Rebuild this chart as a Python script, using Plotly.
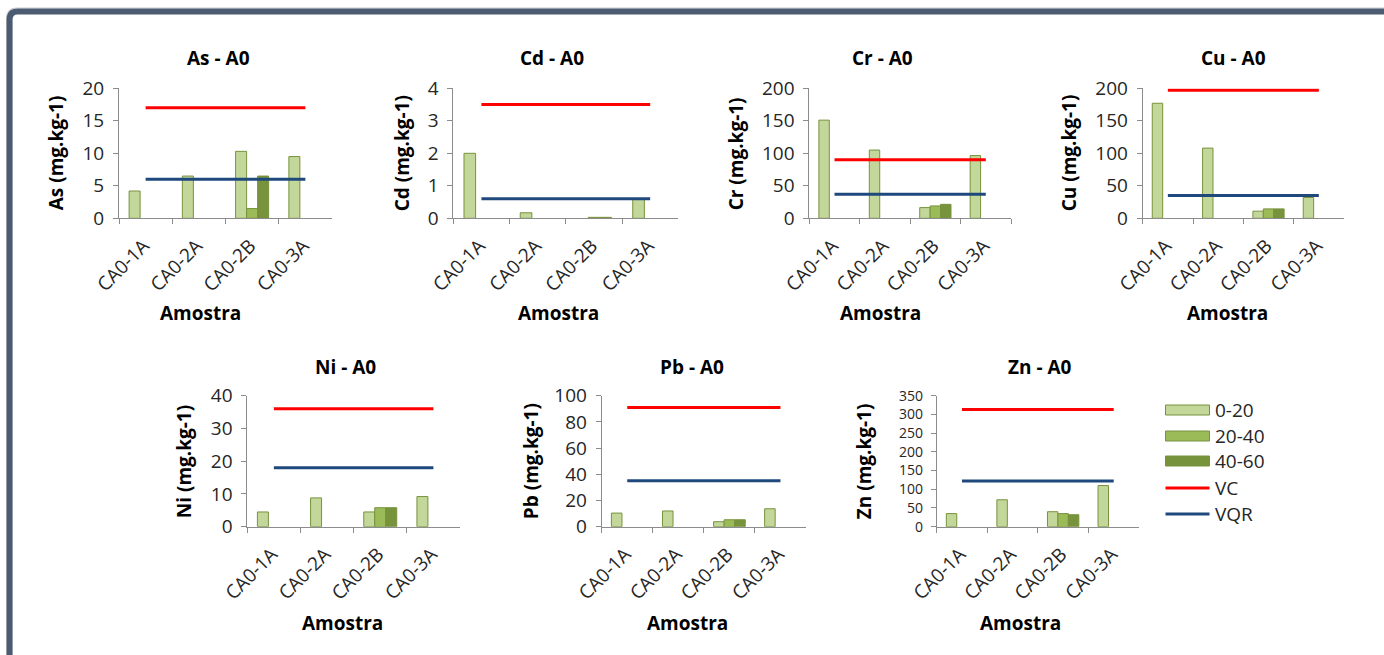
import plotly.graph_objects as go

W, H = 1384, 655

# ---- data -------------------------------------------------------------
amostras = ["CA0-1A", "CA0-2A", "CA0-2B", "CA0-3A"]
profundidades = ["0-20", "20-40", "40-60"]
elementos = ["As", "Cd", "Cr", "Cu", "Ni", "Pb", "Zn"]

as_0_20 = [4.2, 6.5, 10.3, 9.5]
as_20_40 = [None, None, 1.5, None]
as_40_60 = [None, None, 6.5, None]

cd_0_20 = [2.0, 0.17, None, 0.6]
cd_20_40 = [None, None, 0.03, None]
cd_40_60 = [None, None, 0.03, None]

cr_0_20 = [151, 105, 16.5, 96.5]
cr_20_40 = [None, None, 19, None]
cr_40_60 = [None, None, 21.5, None]

cu_0_20 = [177, 108, 11, 32]
cu_20_40 = [None, None, 14.5, None]
cu_40_60 = [None, None, 14.5, None]

ni_0_20 = [4.5, 8.8, 4.5, 9.2]
ni_20_40 = [None, None, 5.8, None]
ni_40_60 = [None, None, 5.8, None]

pb_0_20 = [10.4, 12, 3.8, 13.7]
pb_20_40 = [None, None, 5.3, None]
pb_40_60 = [None, None, 5.3, None]

zn_0_20 = [35, 72, 40, 110]
zn_20_40 = [None, None, 35, None]
zn_40_60 = [None, None, 32, None]

valores_vc = [17, 3.5, 90, 197, 36, 91, 313]
valores_vqr = [6, 0.6, 37, 35, 18, 35, 122]

eixo_max = [20, 4, 200, 200, 40, 100, 350]
eixo_passo = [5, 1, 50, 50, 10, 20, 50]

series_por_elemento = [
    (as_0_20, as_20_40, as_40_60),
    (cd_0_20, cd_20_40, cd_40_60),
    (cr_0_20, cr_20_40, cr_40_60),
    (cu_0_20, cu_20_40, cu_40_60),
    (ni_0_20, ni_20_40, ni_40_60),
    (pb_0_20, pb_20_40, pb_40_60),
    (zn_0_20, zn_20_40, zn_40_60),
]

# ---- styling ----------------------------------------------------------
FONT = "Open Sans"
TXT = "#262626"
AXIS = "#8c8c8c"
cores_barra = ["#c4d79b", "#9bbb59", "#77933c"]
cor_borda = "#77933c"
COR_VC = "#ff0000"
COR_VQR = "#1f497d"

# plot boxes in pixels: (x0, x1, y_top, y_bottom)
caixas = [
    (119, 332, 88.3, 218.3),
    (453.3, 678.3, 88.3, 218.3),
    (809.3, 1011, 88.3, 218.3),
    (1142.7, 1344, 88.3, 218.3),
    (247.3, 460, 395.7, 526.7),
    (601.7, 806, 395.7, 526.7),
    (936.7, 1139, 395.7, 526.7),
]
# y tick label size per panel (the Zn scale is denser)
tamanho_ytick = [19, 19, 19, 19, 19, 19, 14]
# title / axis-title anchor positions in pixels
titulo_x = [218, 552, 882, 1233, 345, 692, 1040]
titulo_y = [58, 58, 58, 58, 367, 367, 367]
amostra_x = [200, 558, 880, 1227, 342, 687, 1020]
amostra_y = [313, 313, 313, 313, 623, 623, 623]
ytitulo_x = [56, 402, 736, 1069, 184, 531, 864]


def fx(px):
    return px / W


def fy(py):
    return 1 - py / H


fig = go.Figure()
annotations = []
layout_axes = {}

for i, el in enumerate(elementos):
    k = i + 1
    xa = "x" if k == 1 else f"x{k}"
    ya = "y" if k == 1 else f"y{k}"
    for serie, nome, cor in zip(series_por_elemento[i], profundidades, cores_barra):
        fig.add_trace(go.Bar(
            x=amostras, y=serie, name=nome, xaxis=xa, yaxis=ya,
            marker=dict(color=cor, line=dict(color=cor_borda, width=1)),
            showlegend=False,
        ))
    fig.add_trace(go.Scatter(
        x=amostras, y=[valores_vc[i]] * len(amostras), name="VC", mode="lines",
        line=dict(color=COR_VC, width=3), xaxis=xa, yaxis=ya, showlegend=False,
    ))
    fig.add_trace(go.Scatter(
        x=amostras, y=[valores_vqr[i]] * len(amostras), name="VQR", mode="lines",
        line=dict(color=COR_VQR, width=3), xaxis=xa, yaxis=ya, showlegend=False,
    ))

    x0, x1, yt, yb = caixas[i]
    xkey = "xaxis" if k == 1 else f"xaxis{k}"
    ykey = "yaxis" if k == 1 else f"yaxis{k}"
    layout_axes[xkey] = dict(
        domain=[fx(x0), fx(x1)], anchor=ya, type="category",
        categoryorder="array", categoryarray=amostras, range=[-0.5, 3.5],
        showline=True, linecolor=AXIS, linewidth=1, showgrid=False,
        ticks="outside", tickson="boundaries", ticklen=5, tickcolor=AXIS,
        tickangle=-45, tickfont=dict(family=FONT, size=19, color=TXT),
        ticklabelstandoff=8, ticklabelshift=-2,
        automargin=False, fixedrange=True,
    )
    layout_axes[ykey] = dict(
        domain=[fy(yb), fy(yt)], anchor=xa, range=[0, eixo_max[i]],
        dtick=eixo_passo[i], tick0=0, showline=True, linecolor=AXIS,
        linewidth=1, showgrid=False, zeroline=False, ticks="outside",
        ticklen=5, tickcolor=AXIS,
        tickfont=dict(family=FONT, size=tamanho_ytick[i], color=TXT),
        ticklabelstandoff=5, automargin=False, fixedrange=True,
    )

    annotations.append(dict(
        text=f"<b>{el} - A0</b>", x=fx(titulo_x[i]), y=fy(titulo_y[i]),
        xref="paper", yref="paper", showarrow=False, xanchor="center",
        yanchor="middle", font=dict(family=FONT, size=19, color="#000000"),
    ))
    annotations.append(dict(
        text="<b>Amostra</b>", x=fx(amostra_x[i]), y=fy(amostra_y[i]),
        xref="paper", yref="paper", showarrow=False, xanchor="center",
        yanchor="middle", font=dict(family=FONT, size=19, color="#000000"),
    ))
    annotations.append(dict(
        text=f"<b>{el} (mg.kg-1)</b>", x=fx(ytitulo_x[i]), y=fy((yt + yb) / 2),
        xref="paper", yref="paper", showarrow=False, xanchor="center",
        yanchor="middle", textangle=-90,
        font=dict(family=FONT, size=19, color="#000000"),
    ))

# ---- legend ------------------------------------------------------------
shapes = []
leg_x0, leg_x1 = 1165.5, 1209.5
leg_rows = [410, 436, 461, 488, 514]
for nome, cor, yy in zip(profundidades, cores_barra, leg_rows[:3]):
    shapes.append(dict(
        type="rect", xref="paper", yref="paper",
        x0=fx(leg_x0), x1=fx(leg_x1), y0=fy(yy + 5), y1=fy(yy - 5),
        fillcolor=cor, line=dict(color=cor_borda, width=1),
    ))
for cor, yy in zip([COR_VC, COR_VQR], leg_rows[3:]):
    shapes.append(dict(
        type="line", xref="paper", yref="paper",
        x0=fx(leg_x0), x1=fx(leg_x1), y0=fy(yy), y1=fy(yy),
        line=dict(color=cor, width=3),
    ))
for nome, yy in zip(profundidades + ["VC", "VQR"], leg_rows):
    annotations.append(dict(
        text=nome, x=fx(1213), y=fy(yy), xref="paper", yref="paper",
        showarrow=False, xanchor="left", yanchor="middle",
        font=dict(family=FONT, size=19, color=TXT),
    ))

# ---- frame around the chart area ---------------------------------------
def caminho(xl, yt_, r):
    return (f"M {fx(xl)},{fy(H + 20)} L {fx(xl)},{fy(yt_ + r)} "
            f"Q {fx(xl)},{fy(yt_)} {fx(xl + r)},{fy(yt_)} L {fx(W + 20)},{fy(yt_)}")


shapes.append(dict(type="path", xref="paper", yref="paper",
                   path=caminho(6.5, 8, 10), line=dict(color="#c8c8c8", width=1)))
shapes.append(dict(type="path", xref="paper", yref="paper",
                   path=caminho(9.6, 11.5, 8), line=dict(color="#4b5b72", width=6)))

fig.update_layout(
    width=W, height=H, autosize=False,
    margin=dict(l=0, r=0, t=0, b=0, pad=0),
    paper_bgcolor="#ffffff", plot_bgcolor="#ffffff",
    barmode="group", bargap=0.38, bargroupgap=0,
    font=dict(family=FONT, color=TXT),
    annotations=annotations, shapes=shapes, showlegend=False,
    **layout_axes,
)

fig.write_html("out.html")
